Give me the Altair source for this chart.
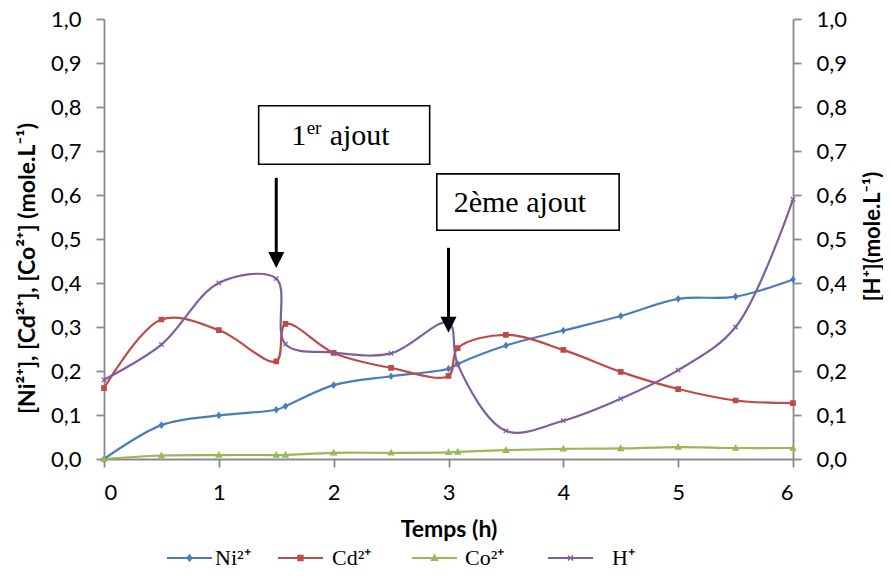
import altair as alt
import pandas as pd

# ---- data ----
temps = [0, 0.5, 1, 1.5, 1.58, 2, 2.5, 3, 3.08, 3.5, 4, 4.5, 5, 5.5, 6]
ni = [0, 0.077, 0.099, 0.112, 0.120, 0.168, 0.188, 0.205, 0.216, 0.258, 0.292, 0.325, 0.364, 0.369, 0.408]
cd = [0.161, 0.317, 0.293, 0.222, 0.307, 0.241, 0.207, 0.189, 0.252, 0.282, 0.248, 0.198, 0.159, 0.133, 0.127]
co = [0, 0.008, 0.009, 0.009, 0.009, 0.014, 0.014, 0.015, 0.016, 0.020, 0.023, 0.024, 0.027, 0.025, 0.025]
h = [0.180, 0.260, 0.400, 0.410, 0.261, 0.242, 0.240, 0.310, 0.215, 0.064, 0.087, 0.137, 0.202, 0.300, 0.590]

series_names = ["Ni²⁺", "Cd²⁺", "Co²⁺", "H⁺"]
series_colors = ["#4A7EBB", "#BE4B48", "#98B954", "#7D5FA0"]
marker_paths = [
    "M0,-1L0.75,0L0,1L-0.75,0Z",
    "M-0.8,-0.8H0.8V0.8H-0.8Z",
    "M0,-1L0.95,0.75H-0.95Z",
    "M-0.8,-0.8L0.8,0.8M-0.8,0.8L0.8,-0.8",
]

# legend layout (pixels from the plot's left edge / top edge)
legend_sym_px = [63, 174, 308, 444]
legend_label_px = [111, 228, 361, 508]
legend_sym_len_px = 45
legend_row_px = 539

# annotation boxes / texts / arrows
box_x = [1.347, 2.898]
box_x2 = [2.836, 4.486]
box_y = [0.670, 0.520]
box_y2 = [0.803, 0.648]
ann_text = ["1", "er", "ajout", "2ème ajout"]
ann_x = [1.63, 1.765, 1.965, 3.045]
ann_y = [0.7136, 0.738, 0.7136, 0.562]
ann_size = [30, 19, 30, 30]
arrow_x = [1.5, 3.0]
arrow_top = [0.639, 0.480]
arrow_head = [0.452, 0.305]

W, H = 689, 440

rows = []
for name, vals in zip(series_names, [ni, cd, co, h]):
    for t, v in zip(temps, vals):
        rows.append({"t": t, "v": v, "series": name})
df = pd.DataFrame(rows)

xscale = alt.Scale(domain=[0, 6], nice=False)
yscale = alt.Scale(domain=[0, 1], nice=False)
cscale = alt.Scale(domain=series_names, range=series_colors)
sscale = alt.Scale(domain=series_names, range=marker_paths)
label_expr = "replace(format(datum.value, '.1f'), '.', ',')"

axis_common = dict(
    domainColor="#8a8a8a", tickColor="#8a8a8a", domainWidth=1.8, tickWidth=1.8,
    tickSize=8, labelFont="Lato", labelFontSize=22, labelColor="#000000",
    titleFont="Lato", titleFontWeight="bold", titleColor="#000000",
    grid=False,
)

X = alt.X("t:Q", scale=xscale, axis=alt.Axis(
    values=[0, 1, 2, 3, 4, 5, 6], format="d", title="Temps (h)", labelPadding=15,
    titlePadding=15, titleFontSize=23, **axis_common))
Y = alt.Y("v:Q", scale=yscale, axis=alt.Axis(
    values=[i / 10 for i in range(11)], labelExpr=label_expr,
    title="[Ni²⁺], [Cd²⁺], [Co²⁺] (mole.L⁻¹)", titlePadding=11, labelPadding=15,
    titleY=249, titleFontSize=23, **axis_common))

base = alt.Chart(df)

lines = base.mark_line(interpolate="catmull-rom", strokeWidth=2.2).encode(
    x=X, y=Y, color=alt.Color("series:N", scale=cscale, legend=None), detail="series:N"
)

markers = base.mark_point(filled=True, size=30, strokeWidth=1.3, opacity=1).encode(
    x="t:Q", y="v:Q",
    fill=alt.Fill("series:N", scale=cscale, legend=None),
    stroke=alt.Stroke("series:N", scale=cscale, legend=None),
    shape=alt.Shape("series:N", scale=sscale, legend=None),
)

# ---- hand-built legend below the axis title ----
xu = 6 / W
leg_df = pd.DataFrame({
    "series": series_names,
    "sx": [p * xu for p in legend_sym_px],
    "sx2": [(p + legend_sym_len_px) * xu for p in legend_sym_px],
    "mx": [(p + legend_sym_len_px / 2) * xu for p in legend_sym_px],
    "lx": [p * xu for p in legend_label_px],
    "ly": [1 - legend_row_px / H] * 4,
})
leg_lines = alt.Chart(leg_df).mark_rule(strokeWidth=2.2).encode(
    x="sx:Q", x2="sx2:Q", y="ly:Q",
    color=alt.Color("series:N", scale=cscale, legend=None),
)
leg_marks = alt.Chart(leg_df).mark_point(filled=True, size=40, strokeWidth=1.3, opacity=1).encode(
    x="mx:Q", y="ly:Q",
    fill=alt.Fill("series:N", scale=cscale, legend=None),
    stroke=alt.Stroke("series:N", scale=cscale, legend=None),
    shape=alt.Shape("series:N", scale=sscale, legend=None),
)
leg_text = alt.Chart(leg_df).mark_text(
    align="left", baseline="middle", font="Liberation Serif", fontSize=22, color="black"
).encode(x="lx:Q", y="ly:Q", text="series:N")

box_df = pd.DataFrame({"x": box_x, "x2": box_x2, "y": box_y, "y2": box_y2})
boxes = alt.Chart(box_df).mark_rect(fill="white", stroke="black", strokeWidth=1.6).encode(
    x="x:Q", x2="x2:Q", y="y:Q", y2="y2:Q"
)

ann_df = pd.DataFrame({"text": ann_text, "x": ann_x, "y": ann_y, "size": ann_size})
texts = alt.Chart(ann_df).mark_text(
    align="left", baseline="alphabetic", font="Liberation Serif", color="black"
).encode(x="x:Q", y="y:Q", text="text:N", size=alt.Size("size:Q", scale=None, legend=None))

arr_df = pd.DataFrame({"x": arrow_x, "top": arrow_top, "head": arrow_head})
shafts = alt.Chart(arr_df).mark_rule(strokeWidth=3, color="black").encode(
    x="x:Q", y="top:Q", y2="head:Q"
)
heads = alt.Chart(arr_df).mark_point(
    shape="M-1,-1L1,-1L0,1Z", size=256, filled=True, color="black", opacity=1
).encode(x="x:Q", y="head:Q")

main = alt.layer(lines, markers, leg_lines, leg_marks, leg_text, boxes, shafts, heads, texts)

h_df = df[df["series"] == "H⁺"]
right = alt.Chart(h_df).mark_line(opacity=0).encode(
    x="t:Q",
    y=alt.Y("v:Q", scale=yscale, axis=alt.Axis(
        orient="right", values=[i / 10 for i in range(11)], labelExpr=label_expr,
        title="[H⁺](mole.L⁻¹)", labelPadding=15, titleAngle=270,
        titleX=79, titleY=217, titleBaseline="middle", titleAlign="center",
        titleFontSize=22, **axis_common)),
)

chart = alt.layer(main, right).resolve_scale(y="independent").properties(
    width=W, height=H,
    autosize=alt.AutoSizeParams(type="none"),
    padding={"left": 96, "top": 11, "right": 90, "bottom": 109},
).configure_view(stroke=None)

chart.save("out.html", embed_options={"renderer": "svg", "actions": False})
